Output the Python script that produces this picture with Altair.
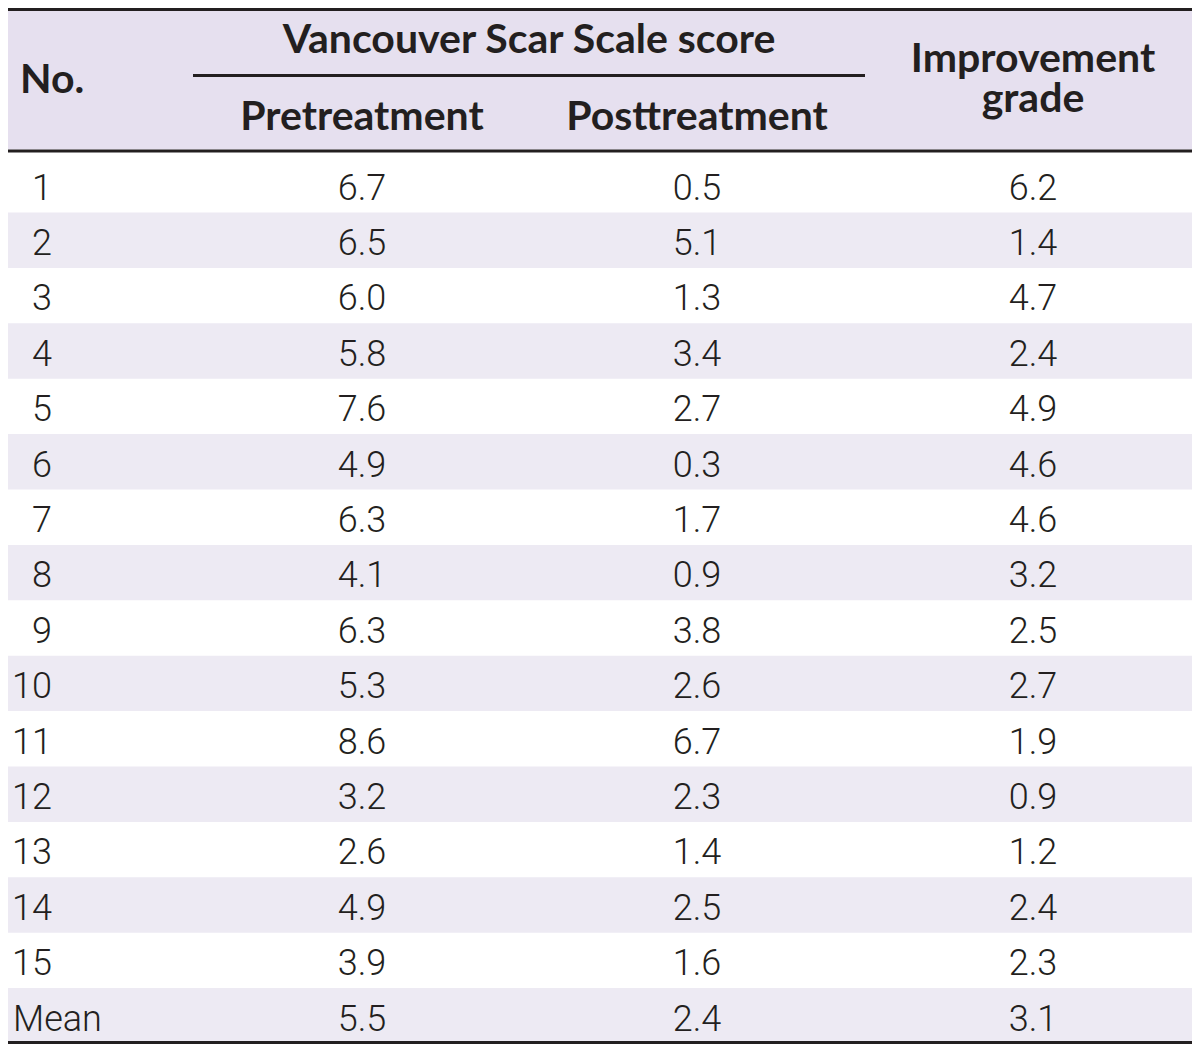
import altair as alt
import pandas as pd

# ---------------- data ----------------
row_labels = [str(i) for i in range(1, 16)] + ["Mean"]
pretreatment = [6.7, 6.5, 6.0, 5.8, 7.6, 4.9, 6.3, 4.1, 6.3, 5.3, 8.6, 3.2, 2.6, 4.9, 3.9, 5.5]
posttreatment = [0.5, 5.1, 1.3, 3.4, 2.7, 0.3, 1.7, 0.9, 3.8, 2.6, 6.7, 2.3, 1.4, 2.5, 1.6, 2.4]
improvement = [6.2, 1.4, 4.7, 2.4, 4.9, 4.6, 4.6, 3.2, 2.5, 2.7, 1.9, 0.9, 1.2, 2.4, 2.3, 3.1]
value_columns = ["Pretreatment", "Posttreatment", "Improvement grade"]
group_title = "Vancouver Scar Scale score"
no_title = "No."

# ---------------- layout (reference pixel units) ----------------
X0, X1 = 8, 1192          # visible horizontal extent
Y0, Y1 = 8, 1044          # visible vertical extent
COL_X = {"Pretreatment": 362, "Posttreatment": 697, "Improvement grade": 1033}
NO_RIGHT = 52
NO_LEFT = 13
ROW_BASE0 = 199.5
ROW_H = 55.4
STRIPE_TOP2 = 212.5
HEADER_LINE = (149.5, 152.5)
TOP_LINE = (8, 11)
BOTTOM_LINE = (1041, 1044)
DARK = "#231f20"
HEADER_BG = "#e6e0ef"
STRIPE_BG = "#edeaf3"
HEAD_FONT = "Lato"
BODY_FONT = "Roboto"

xs = alt.Scale(domain=[X0, X1], range=[0, X1 - X0])
ys = alt.Scale(domain=[Y0, Y1], range=[0, Y1 - Y0])

# cells
cells = []
for i in range(len(row_labels)):
    vals = [pretreatment[i], posttreatment[i], improvement[i]]
    for c, v in zip(value_columns, vals):
        cells.append({"x": COL_X[c], "y": ROW_BASE0 + ROW_H * i, "value": v})
cells = pd.DataFrame(cells)

labels = pd.DataFrame({
    "label": row_labels,
    "y": [ROW_BASE0 + ROW_H * i for i in range(len(row_labels))],
    "isnum": [lab.isdigit() for lab in row_labels],
})
labels["x"] = [NO_RIGHT if n else NO_LEFT for n in labels["isnum"]]

stripes = []
for i in range(1, len(row_labels), 2):
    top = STRIPE_TOP2 + ROW_H * (i - 1)
    stripes.append({"x": X0, "x2": X1, "y": top, "y2": min(top + ROW_H, BOTTOM_LINE[0])})
stripes = pd.DataFrame(stripes)

bgs = pd.DataFrame([
    {"x": X0, "x2": X1, "y": TOP_LINE[1], "y2": HEADER_LINE[0]},
])
lines = pd.DataFrame([
    {"x": X0, "x2": X1, "y": TOP_LINE[0], "y2": TOP_LINE[1]},
    {"x": X0, "x2": X1, "y": HEADER_LINE[0], "y2": HEADER_LINE[1]},
    {"x": X0, "x2": X1, "y": BOTTOM_LINE[0], "y2": BOTTOM_LINE[1]},
    {"x": 193, "x2": 865, "y": 74, "y2": 77},
])

head_center = pd.DataFrame([
    {"t": group_title, "x": 529, "y": 53},
    {"t": value_columns[0], "x": COL_X[value_columns[0]], "y": 130},
    {"t": value_columns[1], "x": COL_X[value_columns[1]], "y": 130},
])
head_wrap = pd.DataFrame([
    {"t": "Improvement\ngrade", "x": COL_X[value_columns[2]], "y": 72},
])
head_left = pd.DataFrame([{"t": no_title, "x": 20, "y": 93}])


def rect_layer(df, color):
    return alt.Chart(df).mark_rect(color=color, clip=True).encode(
        x=alt.X("x:Q", scale=xs, axis=None),
        x2="x2:Q",
        y=alt.Y("y:Q", scale=ys, axis=None),
        y2="y2:Q",
    )


def text_layer(df, field, font, size, weight, align, **kw):
    return alt.Chart(df).mark_text(
        font=font, fontSize=size, fontWeight=weight, color=DARK, align=align,
        baseline="alphabetic", **kw
    ).encode(
        x=alt.X("x:Q", scale=xs, axis=None),
        y=alt.Y("y:Q", scale=ys, axis=None),
        text=field,
    )


bg_layer = rect_layer(bgs, HEADER_BG)
stripe_layer = rect_layer(stripes, STRIPE_BG)
line_layer = rect_layer(lines, DARK)

cell_layer = text_layer(cells, alt.Text("value:Q", format=".1f"), BODY_FONT, 36, 300, "center")
num_layer = text_layer(labels[labels["isnum"]], "label:N", BODY_FONT, 36, 300, "right")
mean_layer = text_layer(labels[~labels["isnum"]], "label:N", BODY_FONT, 36, 300, "left")

hc_layer = text_layer(head_center, "t:N", HEAD_FONT, 41, "bold", "center")
hw_layer = text_layer(head_wrap, "t:N", HEAD_FONT, 41, "bold", "center", lineBreak="\n", lineHeight=40)
hl_layer = text_layer(head_left, "t:N", HEAD_FONT, 41, "bold", "left")

chart = alt.layer(
    bg_layer, stripe_layer, line_layer, cell_layer, num_layer, mean_layer,
    hc_layer, hw_layer, hl_layer
).properties(
    width=X1 - X0,
    height=Y1 - Y0,
    padding=0,
    autosize=alt.AutoSizeParams(type="none"),
    background="white",
).configure_view(stroke=None)

chart.save("out.html", embed_options={"renderer": "svg", "actions": False})
